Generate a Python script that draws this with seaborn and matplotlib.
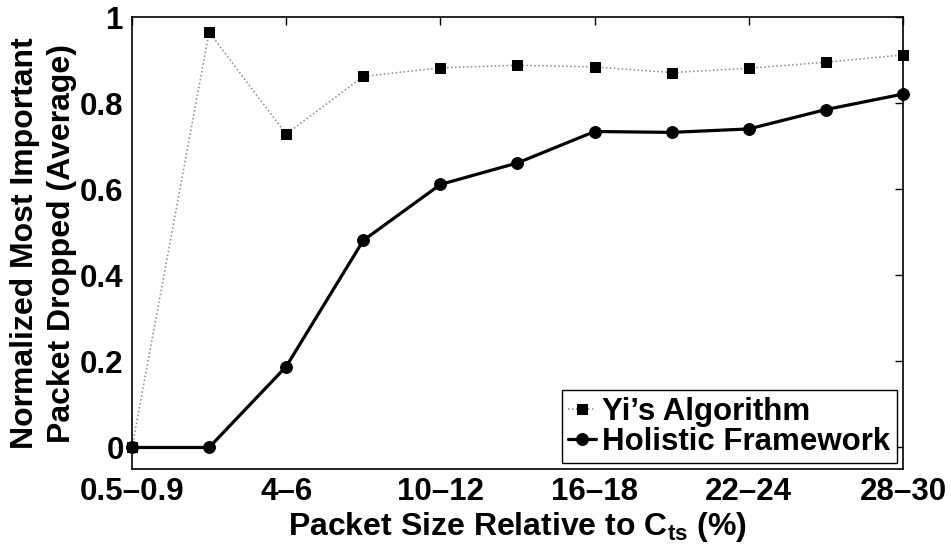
import matplotlib
matplotlib.use("Agg")
import matplotlib.pyplot as plt
import seaborn as sns
import pandas as pd
import numpy as np

# Packet-size bins (percent of C_ts)
size_bins = ["0.5–0.9", "1–3", "4–6", "7–9", "10–12", "13–15",
             "16–18", "19–21", "22–24", "25–27", "28–30"]
yi_algorithm = [0.0, 0.965, 0.728, 0.862, 0.882, 0.888, 0.884, 0.871, 0.881, 0.895, 0.912]
holistic = [0.0, 0.0, 0.188, 0.481, 0.611, 0.661, 0.734, 0.732, 0.740, 0.785, 0.821]
shown_bins = ["0.5–0.9", "4–6", "10–12", "16–18", "22–24", "28–30"]
y_ticks = [0, 0.2, 0.4, 0.6, 0.8, 1]

sns.set_style("white")
plt.rcParams["font.family"] = ["Liberation Sans", "DejaVu Sans"]
plt.rcParams["font.weight"] = "bold"
plt.rcParams["text.color"] = "black"
plt.rcParams["axes.labelcolor"] = "black"
plt.rcParams["xtick.color"] = "black"
plt.rcParams["ytick.color"] = "black"
plt.rcParams["mathtext.fontset"] = "custom"
plt.rcParams["mathtext.rm"] = "Liberation Sans:bold"
plt.rcParams["mathtext.bf"] = "Liberation Sans:bold"
plt.rcParams["mathtext.it"] = "Liberation Sans:bold"

pos = np.arange(1, len(size_bins) + 1)
df = pd.DataFrame({"pos": pos, "bin": size_bins,
                   "Yi’s Algorithm": yi_algorithm,
                   "Holistic Framework": holistic})

fig = plt.figure(figsize=(9.51, 5.54), dpi=100)
ax = fig.add_axes([0.1388, 0.1534, 0.9495 - 0.1388, 0.9693 - 0.1534])

sns.lineplot(data=df, x="pos", y="Yi’s Algorithm", ax=ax, color="#8a8a8a",
             linestyle=(0, (1, 1.6)), linewidth=1.1, marker="s", markersize=7,
             markerfacecolor="black", markeredgecolor="black",
             label="Yi’s Algorithm", clip_on=False)
sns.lineplot(data=df, x="pos", y="Holistic Framework", ax=ax, color="black",
             linewidth=2.3, marker="o", markersize=8.5,
             markerfacecolor="black", markeredgecolor="black",
             label="Holistic Framework", clip_on=False)

ax.set_xlim(1, len(size_bins))
ax.set_ylim(-0.05, 1)
tick_pos = [pos[size_bins.index(b)] for b in shown_bins]
ax.set_xticks(tick_pos)
ax.set_xticklabels(shown_bins)
ax.set_yticks(y_ticks)
ax.set_yticklabels([f"{t:g}" for t in y_ticks])
ax.tick_params(direction="in", length=6, width=1, top=True, right=True,
               labelsize=22.5, pad=6, colors="black")
for lab in ax.get_xticklabels() + ax.get_yticklabels():
    lab.set_fontweight("bold")
for s in ax.spines.values():
    s.set_color("black")
    s.set_linewidth(1.2)

ax.set_xlabel(r"Packet Size Relative to $\mathregular{C_{ts}}$ (%)",
              fontsize=23, fontweight="bold", labelpad=2, color="black")
ax.set_ylabel("Normalized Most Important\nPacket Dropped (Average)",
              fontsize=23, fontweight="bold", labelpad=2, linespacing=1.3,
              color="black")

leg = ax.legend(loc="lower right", frameon=True, fancybox=False,
                edgecolor="black", handlelength=0.9, handletextpad=0.2,
                borderpad=0.2, labelspacing=0.0, borderaxespad=0.2,
                prop={"weight": "bold", "size": 22.5})
leg.get_frame().set_linewidth(1.0)
leg.get_frame().set_alpha(1)
for t in leg.get_texts():
    t.set_color("black")

fig.savefig("out.png", dpi=100)
